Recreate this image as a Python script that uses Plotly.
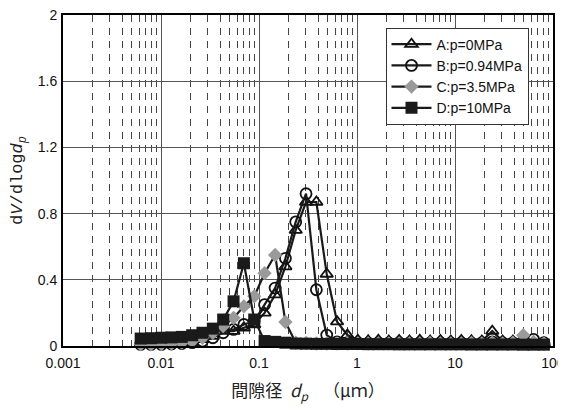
import plotly.graph_objects as go

# ---- data ----
pore_um = [0.0062, 0.0079, 0.0101, 0.0128, 0.0163, 0.0208, 0.0265, 0.0338, 0.0431, 0.0550,
           0.0701, 0.0894, 0.114, 0.146, 0.186, 0.237, 0.302, 0.385, 0.491, 0.626,
           0.798, 1.02, 1.30, 1.65, 2.11, 2.69, 3.43, 4.37, 5.57, 7.10,
           9.06, 11.6, 14.7, 18.8, 24.0, 30.6, 39.0, 49.7, 63.3, 80.8]

a_p0 = [0.010, 0.010, 0.012, 0.012, 0.015, 0.020, 0.040, 0.060, 0.090, 0.090,
        0.110, 0.130, 0.200, 0.310, 0.480, 0.700, 0.870, 0.870, 0.435, 0.147,
        0.066, 0.035, 0.032, 0.035, 0.030, 0.034, 0.031, 0.035, 0.030, 0.033,
        0.030, 0.034, 0.032, 0.030, 0.090, 0.030, 0.030, 0.028, 0.025, 0.020]

b_p094 = [0.010, 0.010, 0.010, 0.012, 0.015, 0.020, 0.030, 0.050, 0.080, 0.100,
          0.130, 0.150, 0.250, 0.350, 0.530, 0.750, 0.920, 0.340, 0.066, 0.025,
          0.020, 0.020, 0.018, 0.020, 0.018, 0.020, 0.018, 0.020, 0.018, 0.020,
          0.018, 0.020, 0.018, 0.020, 0.025, 0.020, 0.020, 0.022, 0.040, 0.020]

c_p35 = [0.010, 0.010, 0.012, 0.015, 0.020, 0.030, 0.050, 0.080, 0.120, 0.170,
         0.240, 0.300, 0.440, 0.550, 0.145, 0.020, 0.018, 0.015, 0.015, 0.015,
         0.015, 0.016, 0.015, 0.016, 0.015, 0.016, 0.015, 0.016, 0.018, 0.016,
         0.015, 0.016, 0.018, 0.016, 0.020, 0.016, 0.020, 0.065, 0.025, 0.015]

d_p10 = [0.045, 0.047, 0.050, 0.052, 0.055, 0.065, 0.080, 0.105, 0.160, 0.270,
         0.500, 0.160, 0.030, 0.025, 0.020, 0.015, 0.014, 0.013, 0.013, 0.012,
         0.012, 0.012, 0.011, 0.011, 0.011, 0.010, 0.010, 0.010, 0.010, 0.010,
         0.010, 0.010, 0.009, 0.009, 0.009, 0.009, 0.009, 0.008, 0.008, 0.008]

series_names = ["A:p=0MPa", "B:p=0.94MPa", "C:p=3.5MPa", "D:p=10MPa"]

x_tick_vals = [0.001, 0.01, 0.1, 1, 10, 100]
x_tick_text = ["0.001", "0.01", "0.1", "1", "10", "100"]
y_tick_vals = [0, 0.4, 0.8, 1.2, 1.6, 2]
y_tick_text = ["0", "0.4", "0.8", "1.2", "1.6", "2"]

# minor (dashed) grid positions: 2..9 in each decade
minor_vals = [d * m for d in [0.001, 0.01, 0.1, 1, 10] for m in range(2, 10)]

fig = go.Figure()

styles = [
    dict(symbol="triangle-up-open", size=11, color="#111", line=dict(color="#111", width=1.8)),
    dict(symbol="circle-open", size=11, color="#111", line=dict(color="#111", width=1.8)),
    dict(symbol="diamond", size=11, color="#9a9a9a", line=dict(color="#9a9a9a", width=0)),
    dict(symbol="square", size=12, color="#1a1a1a", line=dict(color="#1a1a1a", width=0)),
]

for name, ys, mk in zip(series_names, [a_p0, b_p094, c_p35, d_p10], styles):
    fig.add_trace(go.Scatter(
        x=pore_um, y=ys, name=name, mode="lines+markers",
        line=dict(color="#1a1a1a", width=2.2),
        marker=mk, cliponaxis=False,
    ))

font_lat = "Liberation Sans, Arial, sans-serif"

# the page body adds an 8px margin, so the figure is sized to fit inside the
# window without scrollbars
fig.update_layout(
    width=558, height=396,
    margin=dict(l=55, r=13, t=7, b=58),
    paper_bgcolor="white", plot_bgcolor="white",
    showlegend=True,
    legend=dict(
        x=0.95, y=0.962, xanchor="right", yanchor="top",
        bgcolor="white", bordercolor="#333", borderwidth=1,
        font=dict(family=font_lat, size=14, color="#111"),
        itemwidth=40, tracegroupgap=0,
    ),
    font=dict(family=font_lat, size=13, color="black"),
)

fig.update_xaxes(
    type="log", range=[-3, 2], automargin=False,
    tickmode="array", tickvals=x_tick_vals, ticktext=x_tick_text,
    tickfont=dict(family=font_lat, size=14, color="#111"),
    ticks="", ticklabelstandoff=3, ticklabeloverflow="allow",
    showgrid=True, gridcolor="#555", gridwidth=1,
    minor=dict(tickmode="array", tickvals=minor_vals, showgrid=True,
               gridcolor="#444", gridwidth=1, griddash="7px,6px", ticks=""),
    showline=True, linecolor="black", linewidth=2, mirror=True,
    zeroline=False,
    title=dict(text="間隙径  <i>d<sub>p</sub></i>    （μｍ）",
               font=dict(family="Noto Sans CJK JP", size=17, color="#222"),
               standoff=23),
)

fig.update_yaxes(
    range=[0, 2], automargin=False,
    tickmode="array", tickvals=y_tick_vals, ticktext=y_tick_text,
    tickfont=dict(family=font_lat, size=14, color="#111"),
    ticks="", ticklabelstandoff=1, ticklabeloverflow="allow",
    showgrid=True, gridcolor="#555", gridwidth=1,
    showline=True, linecolor="black", linewidth=2, mirror=True,
    zeroline=False,
    title=dict(text="d<i>V</i>/dlog<i>d<sub>p</sub></i>",
               font=dict(family="Liberation Mono, DejaVu Sans Mono, monospace", size=17, color="#222"),
               standoff=12),
)

fig.write_html("out.html")
